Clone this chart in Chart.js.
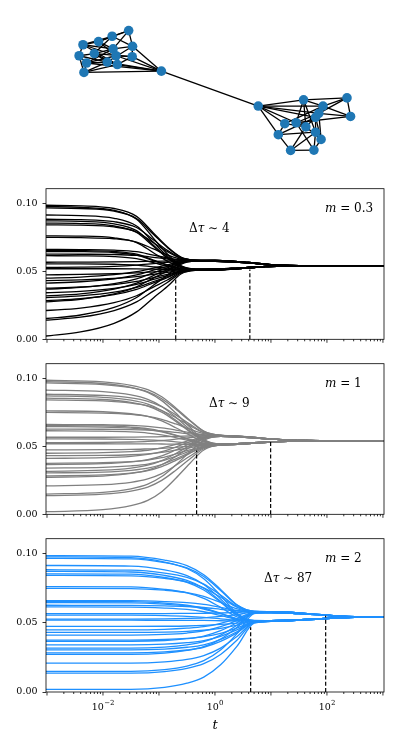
<!DOCTYPE html>
<html>
<head>
<meta charset="utf-8">
<script src="https://cdn.jsdelivr.net/npm/chart.js@4.4.0/dist/chart.umd.min.js"></script>
<style>
  body { margin: 0; background: #fff; }
  #fig { position: relative; width: 399px; height: 747px; overflow: hidden; }
  #fig canvas { position: absolute; }
</style>
</head>
<body>
<div id="fig">
  <canvas id="graph" width="340" height="170" style="left:50px;top:0px"></canvas>
  <canvas id="p1" width="399" height="172" style="left:0px;top:178px"></canvas>
  <canvas id="p2" width="399" height="172" style="left:0px;top:353px"></canvas>
  <canvas id="p3" width="399" height="209" style="left:0px;top:528px"></canvas>
</div>
<script>
// network layout (node positions in layout units) and edges
var nodeX = [228, 177, 135, 87, 240, 180, 122, 75, 189, 239, 98, 162, 193, 90, 329,
             628, 768, 902, 828, 815, 805, 913, 710, 745, 775, 805, 690, 822, 728, 800];
var nodeY = [82, 100, 117, 127, 132, 140, 155, 162, 162, 165, 185, 182, 190, 215, 211,
             322, 302, 296, 322, 345, 358, 355, 378, 375, 388, 405, 413, 428, 463, 462];
var edges = [
  [0,1],[0,4],[0,5],[0,2],[1,2],[1,3],[1,4],[1,6],[2,3],[2,8],[2,5],[3,7],[3,8],[3,5],[3,12],
  [4,5],[4,11],[4,9],[5,6],[5,10],[6,7],[6,9],[6,12],[7,10],[7,13],[7,11],[8,9],[8,10],[9,12],
  [10,13],[10,11],[11,13],[12,13],[11,12],[6,11],
  [14,4],[14,9],[14,12],[14,11],[14,13],[14,10],[14,8],[14,15],
  [15,16],[15,18],[15,20],[15,22],[15,26],[15,23],[15,19],
  [16,17],[16,18],[16,23],[16,25],[16,24],[17,21],[17,19],[17,18],[18,21],[18,22],[18,20],
  [19,21],[19,23],[19,27],[20,26],[20,27],[20,24],[21,23],[22,24],[22,26],[23,24],[23,29],
  [24,27],[24,28],[25,26],[25,28],[25,29],[26,28],[27,29],[28,29],[20,25]
];

// plateau each node reaches first: U upper / L lower, a = coming from above, b = from below
var settleGroup = ['Ua','La','Ua','La','Ua','La','La','Ua','La','Ua','Ua','La','La','Ua','La','Ub','La',
                   'Ub','La','Lb','Ub','Lb','Ub','Lb','Ub','Lb','Ub','Lb','Lb','Ub','Lb','Ub','Lb','Lb'];

// m = 0.3
var timesM03 = [0.00095, 0.00398, 0.0158, 0.0398, 0.0794, 0.141, 0.251, 0.447, 1, 2, 3.98, 7.94, 15.8, 31.6, 1050];
var headM03 = [
  [0.0988, 0.0984, 0.0964, 0.0906, 0.0784, 0.0682, 0.0605, 0.0584],
  [0.0978, 0.0973, 0.0950, 0.0885, 0.0746, 0.0629, 0.0541, 0.0518],
  [0.0968, 0.0964, 0.0945, 0.0890, 0.0774, 0.0677, 0.0603, 0.0584],
  [0.0916, 0.0912, 0.0892, 0.0835, 0.0715, 0.0614, 0.0537, 0.0517],
  [0.0885, 0.0882, 0.0867, 0.0824, 0.0733, 0.0656, 0.0598, 0.0583],
  [0.0873, 0.0869, 0.0851, 0.0801, 0.0693, 0.0603, 0.0535, 0.0517],
  [0.0856, 0.0853, 0.0835, 0.0787, 0.0685, 0.0599, 0.0534, 0.0516],
  [0.0844, 0.0841, 0.0828, 0.0791, 0.0712, 0.0646, 0.0596, 0.0583],
  [0.0763, 0.0761, 0.0748, 0.0713, 0.0638, 0.0576, 0.0528, 0.0516],
  [0.0751, 0.0749, 0.0741, 0.0717, 0.0666, 0.0623, 0.0590, 0.0582],
  [0.0662, 0.0661, 0.0657, 0.0646, 0.0621, 0.0601, 0.0585, 0.0581],
  [0.0655, 0.0654, 0.0647, 0.0627, 0.0584, 0.0549, 0.0522, 0.0514],
  [0.0647, 0.0646, 0.0639, 0.0620, 0.0580, 0.0547, 0.0521, 0.0514],
  [0.0628, 0.0627, 0.0625, 0.0618, 0.0604, 0.0592, 0.0583, 0.0580],
  [0.0616, 0.0615, 0.0610, 0.0595, 0.0565, 0.0539, 0.0519, 0.0514],
  [0.0568, 0.0569, 0.0570, 0.0572, 0.0575, 0.0577, 0.0579, 0.0580],
  [0.0556, 0.0556, 0.0553, 0.0547, 0.0534, 0.0524, 0.0516, 0.0513],
  [0.0529, 0.0532, 0.0538, 0.0547, 0.0558, 0.0567, 0.0577, 0.0579],
  [0.0520, 0.0520, 0.0520, 0.0519, 0.0517, 0.0515, 0.0513, 0.0513],
  [0.0475, 0.0478, 0.0483, 0.0489, 0.0497, 0.0504, 0.0511, 0.0513],
  [0.0451, 0.0459, 0.0476, 0.0498, 0.0525, 0.0548, 0.0572, 0.0579],
  [0.0433, 0.0438, 0.0448, 0.0462, 0.0479, 0.0493, 0.0508, 0.0512],
  [0.0414, 0.0424, 0.0446, 0.0474, 0.0509, 0.0538, 0.0570, 0.0578],
  [0.0377, 0.0386, 0.0403, 0.0427, 0.0455, 0.0479, 0.0505, 0.0512],
  [0.0369, 0.0382, 0.0410, 0.0446, 0.0490, 0.0527, 0.0567, 0.0578],
  [0.0343, 0.0353, 0.0375, 0.0405, 0.0441, 0.0470, 0.0503, 0.0511],
  [0.0320, 0.0335, 0.0370, 0.0414, 0.0470, 0.0514, 0.0564, 0.0577],
  [0.0307, 0.0320, 0.0347, 0.0382, 0.0426, 0.0461, 0.0501, 0.0511],
  [0.0285, 0.0299, 0.0329, 0.0368, 0.0416, 0.0455, 0.0499, 0.0511],
  [0.0276, 0.0295, 0.0334, 0.0387, 0.0451, 0.0503, 0.0562, 0.0577],
  [0.0212, 0.0230, 0.0270, 0.0321, 0.0385, 0.0437, 0.0495, 0.0510],
  [0.0153, 0.0179, 0.0235, 0.0308, 0.0399, 0.0472, 0.0554, 0.0576],
  [0.0141, 0.0163, 0.0212, 0.0276, 0.0355, 0.0419, 0.0490, 0.0509],
  [0.0024, 0.0054, 0.0118, 0.0202, 0.0305, 0.0389, 0.0483, 0.0508]
];
var tailUaM03 = [0.0581, 0.0576, 0.0566, 0.0554, 0.0546, 0.0543, 0.0543];
var tailUbM03 = [0.0575, 0.0571, 0.0563, 0.0552, 0.0545, 0.0543, 0.0543];
var tailLaM03 = [0.0517, 0.0522, 0.0530, 0.0537, 0.0541, 0.0543, 0.0543];
var tailLbM03 = [0.0512, 0.0517, 0.0526, 0.0535, 0.0540, 0.0543, 0.0543];

// m = 1
var timesM1 = [0.00095, 0.01, 0.0316, 0.0631, 0.112, 0.2, 0.355, 0.631, 1.26, 2.51, 5.01, 10, 20, 39.8, 79.4, 1050];
var headM1 = [
  [0.0988, 0.0976, 0.0951, 0.0919, 0.0866, 0.0784, 0.0694, 0.0613],
  [0.0978, 0.0964, 0.0936, 0.0899, 0.0838, 0.0746, 0.0643, 0.0550],
  [0.0968, 0.0956, 0.0933, 0.0902, 0.0852, 0.0774, 0.0689, 0.0611],
  [0.0916, 0.0904, 0.0880, 0.0847, 0.0795, 0.0715, 0.0626, 0.0545],
  [0.0885, 0.0876, 0.0858, 0.0833, 0.0794, 0.0733, 0.0665, 0.0604],
  [0.0873, 0.0862, 0.0841, 0.0812, 0.0765, 0.0693, 0.0614, 0.0542],
  [0.0856, 0.0846, 0.0825, 0.0798, 0.0753, 0.0685, 0.0609, 0.0540],
  [0.0844, 0.0836, 0.0820, 0.0799, 0.0765, 0.0712, 0.0654, 0.0601],
  [0.0763, 0.0756, 0.0741, 0.0721, 0.0688, 0.0638, 0.0583, 0.0533],
  [0.0751, 0.0746, 0.0736, 0.0722, 0.0700, 0.0666, 0.0628, 0.0594],
  [0.0662, 0.0660, 0.0655, 0.0648, 0.0637, 0.0621, 0.0603, 0.0587],
  [0.0655, 0.0651, 0.0642, 0.0631, 0.0612, 0.0584, 0.0553, 0.0524],
  [0.0647, 0.0643, 0.0635, 0.0624, 0.0607, 0.0580, 0.0550, 0.0524],
  [0.0628, 0.0627, 0.0624, 0.0620, 0.0614, 0.0604, 0.0593, 0.0584],
  [0.0616, 0.0613, 0.0607, 0.0599, 0.0585, 0.0565, 0.0542, 0.0521],
  [0.0568, 0.0568, 0.0569, 0.0570, 0.0572, 0.0574, 0.0577, 0.0579],
  [0.0556, 0.0555, 0.0552, 0.0549, 0.0543, 0.0534, 0.0525, 0.0516],
  [0.0528, 0.0530, 0.0533, 0.0537, 0.0544, 0.0554, 0.0565, 0.0576],
  [0.0520, 0.0520, 0.0519, 0.0519, 0.0518, 0.0517, 0.0515, 0.0514],
  [0.0475, 0.0476, 0.0478, 0.0482, 0.0486, 0.0494, 0.0502, 0.0510],
  [0.0450, 0.0454, 0.0462, 0.0472, 0.0489, 0.0515, 0.0544, 0.0570],
  [0.0432, 0.0434, 0.0439, 0.0446, 0.0456, 0.0473, 0.0490, 0.0507],
  [0.0412, 0.0417, 0.0427, 0.0441, 0.0462, 0.0496, 0.0533, 0.0567],
  [0.0376, 0.0380, 0.0388, 0.0399, 0.0417, 0.0445, 0.0475, 0.0502],
  [0.0367, 0.0373, 0.0386, 0.0403, 0.0431, 0.0474, 0.0520, 0.0563],
  [0.0341, 0.0346, 0.0357, 0.0370, 0.0393, 0.0427, 0.0465, 0.0499],
  [0.0317, 0.0325, 0.0341, 0.0362, 0.0396, 0.0448, 0.0506, 0.0559],
  [0.0305, 0.0311, 0.0324, 0.0340, 0.0367, 0.0409, 0.0455, 0.0496],
  [0.0283, 0.0290, 0.0304, 0.0322, 0.0352, 0.0398, 0.0449, 0.0495],
  [0.0273, 0.0282, 0.0301, 0.0325, 0.0365, 0.0427, 0.0494, 0.0555],
  [0.0209, 0.0218, 0.0236, 0.0261, 0.0300, 0.0361, 0.0428, 0.0489],
  [0.0149, 0.0162, 0.0188, 0.0222, 0.0278, 0.0364, 0.0459, 0.0545],
  [0.0137, 0.0148, 0.0171, 0.0201, 0.0250, 0.0325, 0.0408, 0.0483],
  [0.0019, 0.0034, 0.0064, 0.0103, 0.0167, 0.0266, 0.0375, 0.0474]
];
var tailUaM1 = [0.0581, 0.0576, 0.0567, 0.0556, 0.0549, 0.0544, 0.0543, 0.0543];
var tailUbM1 = [0.0574, 0.0570, 0.0563, 0.0554, 0.0547, 0.0544, 0.0543, 0.0543];
var tailLaM1 = [0.0518, 0.0521, 0.0528, 0.0534, 0.0540, 0.0542, 0.0543, 0.0543];
var tailLbM1 = [0.0511, 0.0516, 0.0524, 0.0532, 0.0538, 0.0542, 0.0543, 0.0543];

// m = 2
var timesM2 = [0.00095, 0.0316, 0.126, 0.316, 0.631, 1.26, 2.51, 5.01, 10, 20, 39.8, 79.4, 158, 316, 631, 1050];
var headM2 = [
  [0.0988, 0.0984, 0.0955, 0.0915, 0.0849, 0.0743, 0.0629, 0.0584],
  [0.0978, 0.0973, 0.0941, 0.0894, 0.0820, 0.0699, 0.0569, 0.0518],
  [0.0968, 0.0964, 0.0937, 0.0898, 0.0836, 0.0735, 0.0627, 0.0584],
  [0.0916, 0.0912, 0.0884, 0.0843, 0.0779, 0.0674, 0.0561, 0.0517],
  [0.0885, 0.0882, 0.0861, 0.0830, 0.0781, 0.0702, 0.0617, 0.0583],
  [0.0873, 0.0869, 0.0844, 0.0808, 0.0751, 0.0657, 0.0556, 0.0517],
  [0.0856, 0.0853, 0.0829, 0.0794, 0.0739, 0.0650, 0.0554, 0.0516],
  [0.0844, 0.0841, 0.0823, 0.0797, 0.0754, 0.0686, 0.0612, 0.0583],
  [0.0763, 0.0761, 0.0743, 0.0718, 0.0678, 0.0613, 0.0543, 0.0516],
  [0.0751, 0.0749, 0.0737, 0.0720, 0.0693, 0.0648, 0.0601, 0.0582],
  [0.0662, 0.0661, 0.0655, 0.0647, 0.0634, 0.0613, 0.0590, 0.0581],
  [0.0655, 0.0654, 0.0644, 0.0629, 0.0607, 0.0570, 0.0530, 0.0514],
  [0.0647, 0.0646, 0.0636, 0.0623, 0.0601, 0.0567, 0.0529, 0.0514],
  [0.0628, 0.0627, 0.0624, 0.0619, 0.0612, 0.0599, 0.0586, 0.0580],
  [0.0616, 0.0615, 0.0608, 0.0598, 0.0581, 0.0554, 0.0525, 0.0514],
  [0.0568, 0.0568, 0.0568, 0.0569, 0.0570, 0.0572, 0.0576, 0.0580],
  [0.0556, 0.0556, 0.0553, 0.0548, 0.0541, 0.0530, 0.0518, 0.0513],
  [0.0528, 0.0528, 0.0530, 0.0533, 0.0537, 0.0547, 0.0561, 0.0578],
  [0.0520, 0.0520, 0.0519, 0.0519, 0.0518, 0.0516, 0.0514, 0.0513],
  [0.0475, 0.0475, 0.0476, 0.0478, 0.0482, 0.0489, 0.0499, 0.0512],
  [0.0450, 0.0450, 0.0454, 0.0462, 0.0473, 0.0497, 0.0533, 0.0576],
  [0.0432, 0.0432, 0.0434, 0.0439, 0.0447, 0.0461, 0.0484, 0.0511],
  [0.0412, 0.0412, 0.0417, 0.0427, 0.0442, 0.0473, 0.0520, 0.0575],
  [0.0376, 0.0376, 0.0380, 0.0388, 0.0401, 0.0425, 0.0464, 0.0509],
  [0.0367, 0.0367, 0.0373, 0.0386, 0.0405, 0.0444, 0.0503, 0.0574],
  [0.0341, 0.0341, 0.0346, 0.0357, 0.0372, 0.0403, 0.0451, 0.0508],
  [0.0317, 0.0317, 0.0325, 0.0341, 0.0364, 0.0412, 0.0485, 0.0572],
  [0.0305, 0.0305, 0.0311, 0.0324, 0.0342, 0.0380, 0.0438, 0.0507],
  [0.0283, 0.0283, 0.0290, 0.0304, 0.0324, 0.0366, 0.0430, 0.0506],
  [0.0273, 0.0273, 0.0282, 0.0301, 0.0328, 0.0383, 0.0470, 0.0571],
  [0.0209, 0.0209, 0.0218, 0.0236, 0.0264, 0.0318, 0.0404, 0.0504],
  [0.0149, 0.0149, 0.0162, 0.0188, 0.0227, 0.0304, 0.0425, 0.0567],
  [0.0137, 0.0137, 0.0148, 0.0171, 0.0205, 0.0272, 0.0378, 0.0502],
  [0.0019, 0.0019, 0.0034, 0.0064, 0.0108, 0.0197, 0.0335, 0.0498]
];
var tailUaM2 = [0.0582, 0.0578, 0.0569, 0.0560, 0.0551, 0.0545, 0.0543, 0.0543];
var tailUbM2 = [0.0575, 0.0572, 0.0565, 0.0558, 0.0549, 0.0545, 0.0543, 0.0543];
var tailLaM2 = [0.0517, 0.0520, 0.0526, 0.0531, 0.0538, 0.0541, 0.0543, 0.0543];
var tailLbM2 = [0.0511, 0.0516, 0.0522, 0.0529, 0.0536, 0.0541, 0.0543, 0.0543];

// dashed markers: times and the height they reach
var dashTimes = [[0.199, 4.2], [0.47, 9.87], [4.34, 94.9]];
var dashTops = [[0.0462, 0.0515], [0.0470, 0.0540], [0.0468, 0.0553]];

var mLabels = ['0.3', '1', '2'];
var tauLabels = ['4', '9', '87'];

var yTicks = [0, 0.05, 0.1];
var decadeTicks = [0.001, 0.01, 0.1, 1, 10, 100, 1000];
var labeledTicks = [0.01, 1, 100];
var labeledExp = ['\u22122', '0', '2'];

var SERIF = '"DejaVu Serif", serif';

// ---- network drawing ----
var graphSets = [{
  data: nodeX.map(function(x, i) { return {x: x, y: nodeY[i]}; }),
  pointRadius: 4.8,
  pointBackgroundColor: '#1f77b4',
  pointBorderWidth: 0,
  backgroundColor: '#1f77b4',
  borderColor: '#1f77b4'
}];
edges.forEach(function(e) {
  graphSets.push({
    data: [{x: nodeX[e[0]], y: nodeY[e[0]]}, {x: nodeX[e[1]], y: nodeY[e[1]]}],
    showLine: true,
    borderColor: '#000',
    borderWidth: 1.3,
    pointRadius: 0
  });
});

new Chart(document.getElementById('graph'), {
  type: 'scatter',
  data: { datasets: graphSets },
  options: {
    responsive: false,
    animation: false,
    events: [],
    layout: { padding: 0 },
    plugins: { legend: { display: false }, tooltip: { enabled: false } },
    scales: {
      x: { type: 'linear', display: false, min: 0, max: 1020 },
      y: { type: 'linear', display: false, min: 0, max: 510, reverse: true }
    }
  }
});

// ---- panels ----
var framePlugin = {
  id: 'frame',
  afterDatasetsDraw: function(chart) {
    var a = chart.chartArea, ctx = chart.ctx;
    ctx.save();
    ctx.strokeStyle = '#000';
    ctx.lineWidth = 0.8;
    ctx.strokeRect(a.left, a.top, a.right - a.left, a.bottom - a.top);
    ctx.restore();
  }
};

function tick(ctx, x, y0, len) {
  ctx.beginPath();
  ctx.moveTo(x, y0);
  ctx.lineTo(x, y0 + len);
  ctx.stroke();
}

function drawPieces(ctx, pieces, x, y, size) {
  pieces.forEach(function(p) {
    ctx.font = (p[1] ? 'italic ' : '') + size + 'px ' + SERIF;
    ctx.fillText(p[0], x, y);
    x += ctx.measureText(p[0]).width;
  });
}

var axisPlugin = {
  id: 'logAxis',
  afterDraw: function(chart, args, opts) {
    var ctx = chart.ctx, xs = chart.scales.x, a = chart.chartArea;
    ctx.save();
    ctx.strokeStyle = '#000';
    ctx.lineWidth = 0.8;
    decadeTicks.forEach(function(d) {
      if (d >= xs.min && d <= xs.max) tick(ctx, xs.getPixelForValue(d), a.bottom, 3.5);
      for (var k = 2; k < 10; k++) {
        var v = d * k;
        if (v >= xs.min && v <= xs.max) tick(ctx, xs.getPixelForValue(v), a.bottom, 2);
      }
    });
    ctx.fillStyle = '#000';
    ctx.textBaseline = 'alphabetic';
    ctx.textAlign = 'left';
    if (opts.labels) {
      labeledTicks.forEach(function(v, i) {
        var px = xs.getPixelForValue(v);
        ctx.font = '9.5px ' + SERIF;
        var w1 = ctx.measureText('10').width;
        ctx.font = '7px ' + SERIF;
        var w2 = ctx.measureText(labeledExp[i]).width;
        var x0 = px - (w1 + w2) / 2;
        ctx.font = '9.5px ' + SERIF;
        ctx.fillText('10', x0, a.bottom + 17.5);
        ctx.font = '7px ' + SERIF;
        ctx.fillText(labeledExp[i], x0 + w1 + 0.3, a.bottom + 13);
      });
      ctx.font = 'italic 13px ' + SERIF;
      ctx.textAlign = 'center';
      ctx.fillText('t', (a.left + a.right) / 2, a.bottom + 37);
      ctx.textAlign = 'left';
    }
    // panel notes
    drawPieces(ctx, [['m', true], [' = ' + opts.m, false]], a.left + 279, a.top + 23, 12);
    drawPieces(ctx, [['\u0394', false], ['\u03c4', true], [' \u223c ' + opts.tau, false]], a.left + opts.tauX, a.top + 43, 12);
    ctx.restore();
  }
};

function makePanel(id, times, heads, tails, color, k, tauX, bottomSpace, showLabels) {
  var sets = [];
  dashTimes[k].forEach(function(t, j) {
    sets.push({
      data: [{x: t, y: 0}, {x: t, y: dashTops[k][j]}],
      borderColor: '#000',
      borderWidth: 1.2,
      borderDash: [4, 2.2],
      pointRadius: 0,
      fill: false
    });
  });
  heads.forEach(function(head, i) {
    var values = head.concat(tails[settleGroup[i]]);
    sets.push({
      data: values.map(function(v, j) { return {x: times[j], y: v}; }),
      borderColor: color,
      borderWidth: 1.3,
      pointRadius: 0,
      cubicInterpolationMode: 'monotone',
      fill: false
    });
  });

  new Chart(document.getElementById(id), {
    type: 'line',
    data: { datasets: sets },
    options: {
      responsive: false,
      animation: false,
      events: [],
      layout: { padding: { top: 10, right: 15, bottom: 0, left: 0 } },
      plugins: {
        legend: { display: false },
        tooltip: { enabled: false },
        logAxis: { labels: showLabels, m: mLabels[k], tau: tauLabels[k], tauX: tauX }
      },
      scales: {
        x: {
          type: 'logarithmic',
          min: 0.00096,
          max: 1045,
          grid: { display: false },
          border: { display: false },
          ticks: { display: false },
          afterFit: function(s) { s.height = bottomSpace; }
        },
        y: {
          type: 'linear',
          min: 0,
          max: 0.111,
          afterBuildTicks: function(s) {
            s.ticks = yTicks.map(function(v) { return {value: v}; });
          },
          ticks: {
            autoSkip: false,
            color: '#000',
            padding: 5,
            font: { family: SERIF, size: 9.5 },
            callback: function(v) { return Number(v).toFixed(2); }
          },
          grid: { drawOnChartArea: false, tickLength: 3.5, color: '#000', lineWidth: 0.8 },
          border: { display: false },
          afterFit: function(s) { s.width = 46; }
        }
      }
    },
    plugins: [framePlugin, axisPlugin]
  });
}

makePanel('p1', timesM03, headM03, {Ua: tailUaM03, Ub: tailUbM03, La: tailLaM03, Lb: tailLbM03}, '#000000', 0, 143, 8, false);
makePanel('p2', timesM1, headM1, {Ua: tailUaM1, Ub: tailUbM1, La: tailLaM1, Lb: tailLbM1}, '#808080', 1, 163, 8, false);
makePanel('p3', timesM2, headM2, {Ua: tailUaM2, Ub: tailUbM2, La: tailLaM2, Lb: tailLbM2}, '#1e90ff', 2, 218, 45, true);
</script>
</body>
</html>
